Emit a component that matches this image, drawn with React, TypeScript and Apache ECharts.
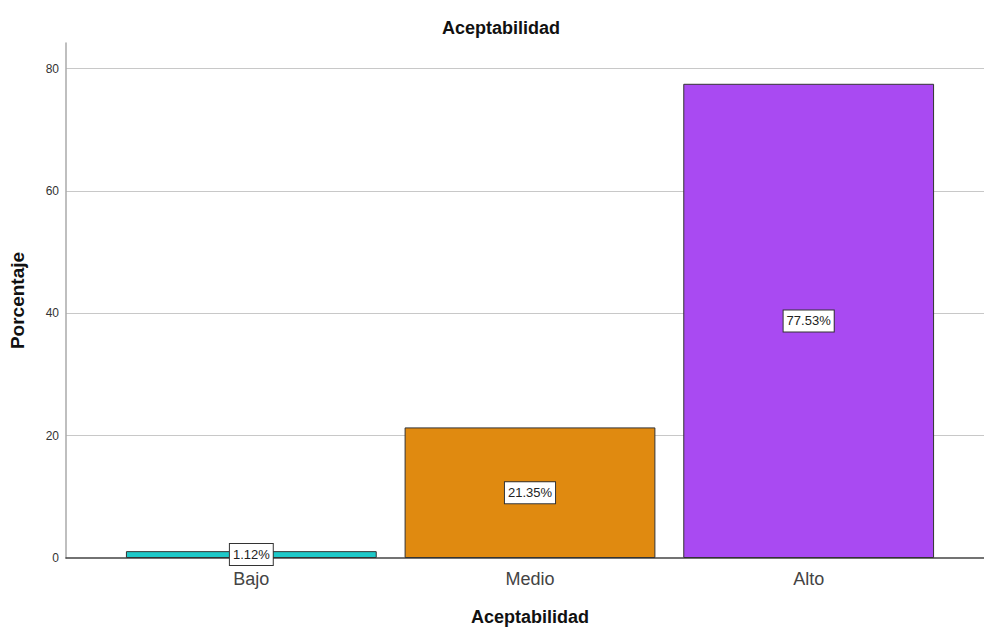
import React, { useEffect, useRef } from "react";
import * as echarts from "echarts";

const categories = ["Bajo", "Medio", "Alto"];
const percentages = [1.12, 21.35, 77.53];
const barColors = ["#1ec9c9", "#e08a10", "#a94af2"];
const yTicks = { min: 0, max: 84.2, interval: 20 };

const FONT = "Liberation Sans, Arial, sans-serif";

export default function App() {
  const ref = useRef<HTMLDivElement | null>(null);

  useEffect(() => {
    if (!ref.current) return;
    const chart = echarts.init(ref.current, undefined, { renderer: "svg" });

    const gridTop = 43;
    const gridBottom = 74;

    chart.setOption({
      animation: false,
      backgroundColor: "#ffffff",
      title: {
        text: "Aceptabilidad",
        left: 496,
        textAlign: "center",
        top: 14,
        textStyle: { fontFamily: FONT, fontSize: 18, fontWeight: "bold", color: "#111" },
      },
      grid: [
        // full-width frame: y axis, grid lines and baseline
        { left: 66, right: 0, top: gridTop, bottom: gridBottom },
        // bar band area
        { left: 112, right: 36, top: gridTop, bottom: gridBottom },
      ],
      xAxis: [
        {
          gridIndex: 0,
          type: "value",
          min: 0,
          max: 1,
          axisLine: { show: true, onZero: false, lineStyle: { color: "#444", width: 1.5 } },
          axisTick: { show: false },
          axisLabel: { show: false },
          splitLine: { show: false },
        },
        {
          gridIndex: 1,
          type: "category",
          data: categories,
          axisLine: { show: false },
          axisTick: { show: false },
          axisLabel: { fontFamily: FONT, fontSize: 18, color: "#444", margin: 12 },
          name: "Aceptabilidad",
          nameLocation: "middle",
          nameGap: 50,
          nameTextStyle: { fontFamily: FONT, fontSize: 18, fontWeight: "bold", color: "#111" },
        },
      ],
      yAxis: [
        {
          gridIndex: 0,
          type: "value",
          min: yTicks.min,
          max: yTicks.max,
          interval: yTicks.interval,
          axisLine: { show: true, lineStyle: { color: "#aaa", width: 1.5 } },
          axisTick: { show: false },
          axisLabel: { fontFamily: FONT, fontSize: 12, color: "#333", margin: 7, showMaxLabel: false },
          splitLine: { show: true, showMinLine: false, showMaxLine: false, lineStyle: { color: "#c8c8c8", width: 1 } },
          name: "Porcentaje",
          nameLocation: "middle",
          nameGap: 39,
          nameTextStyle: { fontFamily: FONT, fontSize: 19, fontWeight: "bold", color: "#111" },
        },
        {
          gridIndex: 1,
          type: "value",
          min: yTicks.min,
          max: yTicks.max,
          show: false,
        },
      ],
      series: [
        {
          type: "bar",
          xAxisIndex: 1,
          yAxisIndex: 1,
          barCategoryGap: "10%",
          data: percentages.map((v, i) => ({
            value: v,
            itemStyle: { color: barColors[i], borderColor: "#333", borderWidth: 1 },
          })),
          label: {
            show: true,
            position: "inside",
            formatter: (p: any) => `${Number(p.value).toFixed(2)}%`,
            fontFamily: FONT,
            fontSize: 13,
            color: "#222",
            backgroundColor: "#ffffff",
            borderColor: "#333",
            borderWidth: 1,
            padding: [4, 3],
          },
        },
      ],
    });

    return () => chart.dispose();
  }, []);

  return (
    <div
      ref={ref}
      style={{ position: "absolute", left: 0, top: 0, width: 984, height: 632 }}
    />
  );
}
